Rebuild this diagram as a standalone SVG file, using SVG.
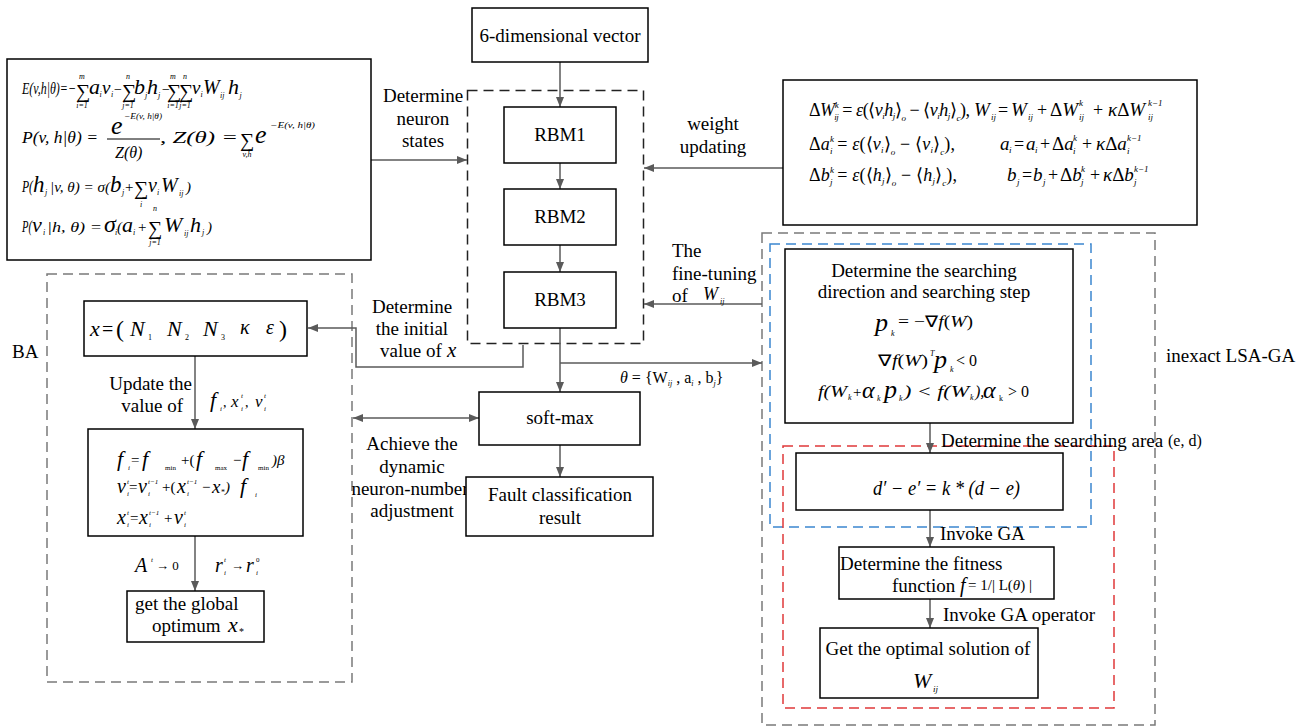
<svg xmlns="http://www.w3.org/2000/svg" width="1310" height="728" viewBox="0 0 1310 728">
<style>
text{font-family:"Liberation Serif","Times New Roman",serif;fill:#000}
.i{font-style:italic}
.l{font-size:19px}
.m{text-anchor:middle}
.lim{font-size:8px;font-style:italic;text-anchor:middle}
.box{fill:#fff;stroke:#000;stroke-width:1.5}
.c{stroke:#5a5a5a;stroke-width:1.5;fill:none}
.dk{fill:none;stroke:#222;stroke-width:1.5;stroke-dasharray:10 6}
.dg{fill:none;stroke:#7a7a7a;stroke-width:1.5;stroke-dasharray:10 6}
.db{fill:none;stroke:#3b87d0;stroke-width:1.5;stroke-dasharray:10 6}
.dr{fill:none;stroke:#e0383a;stroke-width:1.5;stroke-dasharray:10 6}
</style>
<defs>
<marker id="ah" viewBox="0 0 10 8" refX="10" refY="4" markerWidth="10" markerHeight="8" markerUnits="userSpaceOnUse" orient="auto-start-reverse"><path d="M0,0 L10,4 L0,8 z" fill="#5a5a5a"/></marker>
</defs>
<rect width="1310" height="728" fill="#fff"/>

<!-- containers -->
<g id="containers">
<rect class="dk" x="467.5" y="90.5" width="176" height="253"/>
<rect class="dg" x="47" y="274" width="305" height="408"/>
<rect class="dg" x="762" y="233" width="393" height="492"/>
<rect class="db" x="770" y="244" width="321" height="283"/>
<rect class="dr" x="783" y="446" width="331" height="262"/>
<text class="l" x="12" y="358">BA</text>
<text class="l" x="1166" y="362">inexact LSA-GA</text>
</g>

<!-- connectors -->
<g id="connectors">
<path class="c" marker-end="url(#ah)" d="M560,62 V107"/>
<path class="c" marker-end="url(#ah)" d="M560,163 V189"/>
<path class="c" marker-end="url(#ah)" d="M560,245 V272"/>
<path class="c" marker-end="url(#ah)" d="M560,328 V392"/>
<path class="c" marker-end="url(#ah)" d="M560,445 V477"/>
<path class="c" marker-end="url(#ah)" d="M560,363 H762"/>
<path class="c" marker-end="url(#ah)" d="M371,160 H467"/>
<path class="c" marker-end="url(#ah)" d="M783,168 H644"/>
<path class="c" marker-end="url(#ah)" d="M762,304 H644"/>
<path class="c" marker-end="url(#ah)" d="M523,345 V367 H356 V328 H308"/>
<path class="c" marker-start="url(#ah)" marker-end="url(#ah)" d="M353,418 H479"/>
<path class="c" marker-end="url(#ah)" d="M195,356 V429"/>
<path class="c" marker-end="url(#ah)" d="M195,536 V591"/>
<path class="c" marker-end="url(#ah)" d="M930,423 V453"/>
<path class="c" marker-end="url(#ah)" d="M930,510 V547"/>
<path class="c" marker-end="url(#ah)" d="M930,599 V628"/>
</g>

<!-- connector labels -->
<g id="labels">
<text class="l m" x="423" y="102">Determine</text>
<text class="l m" x="423" y="125">neuron</text>
<text class="l m" x="423" y="147">states</text>
<text class="l m" x="713" y="130">weight</text>
<text class="l m" x="713" y="153">updating</text>
<text class="l" x="672" y="257">The</text>
<text class="l" x="672" y="280">fine-tuning</text>
<text class="l" x="672" y="302">of</text>
<text class="i" x="703" y="300" font-size="18">W</text><text class="i" x="720" y="304" font-size="8">ij</text>
<text class="l m" x="412" y="313">Determine</text>
<text class="l m" x="412" y="335">the initial</text>
<text class="l" x="380" y="357">value of</text><text class="i" x="447" y="357" font-size="21">x</text>
<text font-size="16" x="620" y="383"><tspan class="i">θ</tspan> = {W<tspan class="i" font-size="8" dy="3">ij</tspan><tspan dy="-3"> , a</tspan><tspan class="i" font-size="8" dy="3">i</tspan><tspan dy="-3"> , b</tspan><tspan class="i" font-size="8" dy="3">j</tspan><tspan dy="-3">}</tspan></text>
<text class="l m" x="412" y="450">Achieve the</text>
<text class="l m" x="412" y="473">dynamic</text>
<text class="l m" x="410" y="495">neuron-number</text>
<text class="l m" x="412" y="517">adjustment</text>
<text class="l" x="192" y="390" text-anchor="end">Update the</text>
<text class="l" x="183" y="412" text-anchor="end">value of</text>
<text class="i" x="210" y="407" font-size="22">f</text><text class="i" x="220" y="411" font-size="7">i</text><text x="223" y="407" font-size="14">,</text>
<text class="i" x="231" y="407" font-size="17">x</text><text class="i" x="241" y="398" font-size="7">t</text><text class="i" x="241" y="411" font-size="7">i</text><text x="245" y="407" font-size="14">,</text>
<text class="i" x="255" y="407" font-size="17">v</text><text class="i" x="264" y="398" font-size="7">t</text><text class="i" x="264" y="411" font-size="7">i</text>
<text class="i" x="135" y="572" font-size="20">A</text><text class="i" x="151" y="562" font-size="7">t</text><text x="156" y="570" font-size="13">→ 0</text>
<text class="i" x="215" y="572" font-size="20">r</text><text class="i" x="224" y="562" font-size="7">t</text><text class="i" x="224" y="575" font-size="7">i</text><text x="231" y="570" font-size="13">→</text>
<text class="i" x="246" y="572" font-size="20">r</text><text x="256" y="562" font-size="7">0</text><text class="i" x="256" y="575" font-size="7">i</text>
<text class="l" x="941" y="447">Determine the searching area</text><text x="1168" y="446" font-size="16">(e, d)</text>
<text class="l" x="940" y="540">Invoke GA</text>
<text class="l" x="943" y="621">Invoke GA operator</text>
</g>

<!-- left formula box -->
<g id="energy-formulas">
<rect class="box" x="7" y="59" width="364" height="201"/>
<text class="i" x="22" y="94" font-size="17" textLength="54" lengthAdjust="spacingAndGlyphs">E(v,h|θ)=−</text>
<text x="76" y="98" font-size="20">∑</text><text class="lim" x="82" y="79">m</text><text class="lim" x="82" y="108">i=1</text>
<text class="i" x="89" y="94" font-size="22">a</text><text class="i" x="99.5" y="97" font-size="8">i</text><text class="i" x="102" y="94" font-size="19">v</text><text class="i" x="111" y="97" font-size="8">i</text>
<text x="114" y="94" font-size="14">−</text>
<text x="122" y="98" font-size="20">∑</text><text class="lim" x="128" y="79">n</text><text class="lim" x="128" y="108">j=1</text>
<text class="i" x="134" y="94" font-size="22">b</text><text class="i" x="145" y="98" font-size="8">j</text><text class="i" x="147" y="94" font-size="22">h</text><text class="i" x="158" y="98" font-size="8">j</text>
<text x="162" y="94" font-size="14">−</text>
<text x="167" y="98" font-size="20">∑</text><text class="lim" x="173" y="79">m</text><text class="lim" x="173" y="108">i=1</text>
<text x="179" y="98" font-size="20">∑</text><text class="lim" x="185" y="79">n</text><text class="lim" x="185" y="108">j=1</text>
<text class="i" x="192" y="94" font-size="19">v</text><text class="i" x="200.5" y="97" font-size="8">i</text><text class="i" x="203" y="94" font-size="20">W</text><text class="i" x="220" y="98" font-size="8">ij</text><text class="i" x="228" y="94" font-size="22">h</text><text class="i" x="239.5" y="98" font-size="8">j</text>

<text class="i" x="22" y="143" font-size="17" textLength="76" lengthAdjust="spacingAndGlyphs">P(v, h|θ) =</text>
<text class="i" x="111" y="134" font-size="26">e</text><text class="i" x="124" y="119" font-size="9" textLength="38" lengthAdjust="spacingAndGlyphs">−E(v, h|θ)</text>
<line x1="107" y1="139" x2="160" y2="139" stroke="#000" stroke-width="1"/>
<text class="i" x="115" y="158" font-size="16">Z(θ)</text>
<text class="i" x="160" y="143" font-size="16" textLength="78" lengthAdjust="spacingAndGlyphs">, Z(θ) =</text>
<text x="240" y="147" font-size="20">∑</text><text class="lim" x="247" y="157">v,h</text>
<text class="i" x="255" y="143" font-size="26">e</text><text class="i" x="270" y="128" font-size="9" textLength="45" lengthAdjust="spacingAndGlyphs">−E(v, h|θ)</text>

<text class="i" x="22" y="192" font-size="17" textLength="11" lengthAdjust="spacingAndGlyphs">P(</text><text class="i" x="33" y="192" font-size="23">h</text><text class="i" x="45" y="195" font-size="8">j</text>
<text class="i" x="50" y="192" font-size="15" textLength="60" lengthAdjust="spacingAndGlyphs">|v, θ) = σ(</text>
<text class="i" x="110" y="192" font-size="23">b</text><text class="i" x="122" y="195" font-size="8">j</text><text x="125" y="192" font-size="15">+</text>
<text x="134" y="195" font-size="20">∑</text><text class="lim" x="141" y="207">i</text>
<text class="i" x="148" y="192" font-size="20">v</text><text class="i" x="157" y="195" font-size="8">i</text><text class="i" x="161" y="192" font-size="20">W</text><text class="i" x="179" y="196" font-size="8">ij</text><text class="i" x="186" y="192" font-size="15">)</text>

<text class="i" x="22" y="232" font-size="17" textLength="10" lengthAdjust="spacingAndGlyphs">P(</text><text class="i" x="32" y="232" font-size="22">v</text><text class="i" x="43" y="235" font-size="8">i</text>
<text class="i" x="47" y="232" font-size="15" textLength="55" lengthAdjust="spacingAndGlyphs">|h, θ) =</text>
<text class="i" x="104" y="232" font-size="24">σ</text><text class="i" x="115" y="235" font-size="8">i</text>
<text class="i" x="117" y="232" font-size="15">(</text><text class="i" x="122" y="232" font-size="22">a</text><text class="i" x="133" y="235" font-size="8">i</text><text x="138" y="232" font-size="15">+</text>
<text x="148" y="235" font-size="20">∑</text><text class="lim" x="155" y="211">n</text><text class="lim" x="155" y="245">j=1</text>
<text class="i" x="164" y="232" font-size="22">W</text><text class="i" x="184" y="236" font-size="8">ij</text><text class="i" x="190" y="232" font-size="22">h</text><text class="i" x="202" y="235" font-size="8">j</text><text class="i" x="207" y="232" font-size="15">)</text>
</g>

<!-- right formula box -->
<g id="update-formulas">
<rect class="box" x="783" y="80" width="414" height="145"/>
<text x="809" y="116" font-size="18" textLength="161" lengthAdjust="spacing">Δ<tspan class="i">W</tspan><tspan class="i" font-size="9" dy="-8">k</tspan><tspan class="i" font-size="9" dx="-4" dy="12">ij</tspan><tspan dy="-4"> = </tspan><tspan class="i">ε</tspan>(⟨<tspan class="i">v</tspan><tspan class="i" font-size="9" dy="3">i</tspan><tspan class="i" dy="-3">h</tspan><tspan class="i" font-size="9" dy="3">j</tspan><tspan dy="-3">⟩</tspan><tspan class="i" font-size="9" dy="5">o</tspan><tspan dy="-5"> − ⟨</tspan><tspan class="i">v</tspan><tspan class="i" font-size="9" dy="3">i</tspan><tspan class="i" dy="-3">h</tspan><tspan class="i" font-size="9" dy="3">j</tspan><tspan dy="-3">⟩</tspan><tspan class="i" font-size="9" dy="5">c</tspan><tspan dy="-5">),</tspan></text>
<text class="i" x="974" y="116" font-size="19">W</text><text class="i" x="991" y="120" font-size="9">ij</text>
<text x="998" y="116" font-size="18">=</text>
<text class="i" x="1011" y="116" font-size="19">W</text><text class="i" x="1028" y="120" font-size="9">ij</text>
<text x="1037" y="116" font-size="18">+</text>
<text x="1050" y="116" font-size="19">Δ<tspan class="i">W</tspan></text><text class="i" x="1079" y="106" font-size="9">k</text><text class="i" x="1079" y="120" font-size="9">ij</text>
<text x="1093" y="116" font-size="18">+</text>
<text x="1108" y="116" font-size="19"><tspan class="i">κ</tspan>Δ<tspan class="i">W</tspan></text><text class="i" x="1148" y="106" font-size="9">k−1</text><text class="i" x="1148" y="120" font-size="9">ij</text>

<text x="809" y="150" font-size="18" textLength="146" lengthAdjust="spacing">Δ<tspan class="i">a</tspan><tspan class="i" font-size="9" dy="-8">k</tspan><tspan class="i" font-size="9" dx="-4" dy="12">i</tspan><tspan dy="-4"> = </tspan><tspan class="i">ε</tspan>(⟨<tspan class="i">v</tspan><tspan class="i" font-size="9" dy="3">i</tspan><tspan dy="-3">⟩</tspan><tspan class="i" font-size="9" dy="5">o</tspan><tspan dy="-5"> − ⟨</tspan><tspan class="i">v</tspan><tspan class="i" font-size="9" dy="3">i</tspan><tspan dy="-3">⟩</tspan><tspan class="i" font-size="9" dy="5">c</tspan><tspan dy="-5">),</tspan></text>
<text class="i" x="1000" y="150" font-size="19">a</text><text class="i" x="1009" y="153" font-size="9">i</text>
<text x="1014" y="150" font-size="18">=</text>
<text class="i" x="1026" y="150" font-size="19">a</text><text class="i" x="1035" y="153" font-size="9">i</text>
<text x="1040" y="150" font-size="18">+</text>
<text x="1052" y="150" font-size="19">Δ<tspan class="i">a</tspan></text><text class="i" x="1073" y="141" font-size="9">k</text><text class="i" x="1073" y="154" font-size="9">i</text>
<text x="1082" y="150" font-size="18">+</text>
<text x="1096" y="150" font-size="19"><tspan class="i">κ</tspan>Δ<tspan class="i">a</tspan></text><text class="i" x="1127" y="141" font-size="9">k−1</text><text class="i" x="1127" y="154" font-size="9">i</text>

<text x="809" y="181" font-size="18" textLength="148" lengthAdjust="spacing">Δ<tspan class="i">b</tspan><tspan class="i" font-size="9" dy="-8">k</tspan><tspan class="i" font-size="9" dx="-4" dy="12">j</tspan><tspan dy="-4"> = </tspan><tspan class="i">ε</tspan>(⟨<tspan class="i">h</tspan><tspan class="i" font-size="9" dy="3">j</tspan><tspan dy="-3">⟩</tspan><tspan class="i" font-size="9" dy="5">o</tspan><tspan dy="-5"> − ⟨</tspan><tspan class="i">h</tspan><tspan class="i" font-size="9" dy="3">j</tspan><tspan dy="-3">⟩</tspan><tspan class="i" font-size="9" dy="5">c</tspan><tspan dy="-5">),</tspan></text>
<text class="i" x="1007" y="181" font-size="19">b</text><text class="i" x="1017" y="185" font-size="9">j</text>
<text x="1022" y="181" font-size="18">=</text>
<text class="i" x="1033" y="181" font-size="19">b</text><text class="i" x="1043" y="185" font-size="9">j</text>
<text x="1048" y="181" font-size="18">+</text>
<text x="1060" y="181" font-size="19">Δ<tspan class="i">b</tspan></text><text class="i" x="1081" y="172" font-size="9">k</text><text class="i" x="1081" y="185" font-size="9">j</text>
<text x="1090" y="181" font-size="18">+</text>
<text x="1103" y="181" font-size="19"><tspan class="i">κ</tspan>Δ<tspan class="i">b</tspan></text><text class="i" x="1134" y="172" font-size="9">k−1</text><text class="i" x="1134" y="185" font-size="9">j</text>
</g>

<!-- DBN column -->
<g id="input"><rect class="box" x="472" y="8" width="176" height="54"/><text class="l m" x="560" y="42">6-dimensional vector</text></g>
<g id="rbm1"><rect class="box" x="504" y="107" width="112" height="56"/><text class="l m" x="560" y="141">RBM1</text></g>
<g id="rbm2"><rect class="box" x="504" y="189" width="112" height="56"/><text class="l m" x="560" y="223">RBM2</text></g>
<g id="rbm3"><rect class="box" x="504" y="272" width="112" height="56"/><text class="l m" x="560" y="306">RBM3</text></g>
<g id="softmax"><rect class="box" x="479" y="392" width="161" height="53"/><text class="l m" x="560" y="424">soft-max</text></g>
<g id="result"><rect class="box" x="466" y="477" width="187" height="59"/><text class="l m" x="560" y="501">Fault classification</text><text class="l m" x="560" y="524">result</text></g>

<!-- BA column -->
<g id="ba-x">
<rect class="box" x="84" y="301" width="223" height="55"/>
<text class="i" x="90" y="336" font-size="22">x</text><text x="102" y="336" font-size="20">=</text><text x="116" y="337" font-size="24">(</text>
<text class="i" x="130" y="336" font-size="22">N</text><text x="148" y="340" font-size="8">1</text>
<text class="i" x="167" y="336" font-size="22">N</text><text x="185" y="340" font-size="8">2</text>
<text class="i" x="203" y="336" font-size="22">N</text><text x="221" y="340" font-size="8">3</text>
<text class="i" x="240" y="334" font-size="20">κ</text><text class="i" x="266" y="334" font-size="20">ε</text><text x="279" y="337" font-size="24">)</text>
</g>
<g id="ba-update">
<rect class="box" x="88" y="429" width="215" height="107"/>
<text class="i" x="117" y="466" font-size="22">f</text><text class="i" x="128" y="470" font-size="7">i</text><text x="131" y="465" font-size="15">=</text>
<text class="i" x="142" y="466" font-size="22">f</text><text x="165" y="470" font-size="7">min</text><text x="181" y="465" font-size="15">+(</text>
<text class="i" x="196" y="466" font-size="22">f</text><text x="215" y="470" font-size="7">max</text><text x="233" y="465" font-size="15">−</text>
<text class="i" x="242" y="466" font-size="22">f</text><text x="258" y="470" font-size="7">min</text><text class="i" x="272" y="465" font-size="15">)β</text>

<text class="i" x="117" y="493" font-size="20">v</text><text class="i" x="127" y="484" font-size="7">t</text><text class="i" x="127" y="496" font-size="7">i</text><text x="129" y="492" font-size="15">=</text>
<text class="i" x="138" y="493" font-size="20">v</text><text class="i" x="148" y="484" font-size="7">t−1</text><text class="i" x="148" y="496" font-size="7">i</text><text x="162" y="492" font-size="15">+(</text>
<text class="i" x="177" y="493" font-size="20">x</text><text class="i" x="187" y="484" font-size="7">t−1</text><text class="i" x="187" y="496" font-size="7">i</text><text x="202" y="492" font-size="15">−</text>
<text class="i" x="212" y="493" font-size="19">x</text><text x="221" y="495" font-size="8">*</text><text class="i" x="225" y="492" font-size="15">)</text>
<text class="i" x="240" y="493" font-size="22">f</text><text class="i" x="255" y="497" font-size="7">i</text>

<text class="i" x="117" y="524" font-size="20">x</text><text class="i" x="127" y="515" font-size="7">t</text><text class="i" x="127" y="527" font-size="7">i</text><text x="130" y="523" font-size="15">=</text>
<text class="i" x="139" y="524" font-size="20">x</text><text class="i" x="149" y="515" font-size="7">t−1</text><text class="i" x="149" y="527" font-size="7">i</text><text x="164" y="523" font-size="15">+</text>
<text class="i" x="174" y="524" font-size="20">v</text><text class="i" x="184" y="515" font-size="7">t</text><text class="i" x="184" y="527" font-size="7">i</text>
</g>
<g id="ba-optimum">
<rect class="box" x="127" y="591" width="137" height="51"/>
<text class="l" x="135" y="610">get the global</text>
<text class="l" x="152" y="632">optimum</text><text class="i" x="228" y="632" font-size="22">x</text><text x="239" y="635" font-size="10">*</text>
</g>

<!-- LSA-GA column -->
<g id="search-direction">
<rect class="box" x="785" y="249" width="288" height="174"/>
<text class="l m" x="924" y="277">Determine the searching</text>
<text class="l m" x="924" y="298">direction and searching step</text>
<text class="i" x="875" y="331" font-size="26">p</text><text class="i" x="891" y="336" font-size="8">k</text>
<text x="898" y="327" font-size="16" textLength="75" lengthAdjust="spacingAndGlyphs">= −∇<tspan class="i">f</tspan>(<tspan class="i">W</tspan>)</text>
<text x="878" y="366" font-size="16" textLength="50" lengthAdjust="spacingAndGlyphs">∇<tspan class="i">f</tspan>(<tspan class="i">W</tspan>)</text><text class="i" x="930" y="356" font-size="8">T</text>
<text class="i" x="934" y="368" font-size="26">p</text><text class="i" x="950" y="372" font-size="8">k</text><text x="956" y="366" font-size="16">&lt; 0</text>
<text class="i" x="818" y="397" font-size="16" textLength="29" lengthAdjust="spacingAndGlyphs">f(W</text><text class="i" x="848" y="400" font-size="8">k</text><text x="853" y="397" font-size="15">+</text>
<text class="i" x="862" y="398" font-size="24">α</text><text class="i" x="877" y="401" font-size="8">k</text>
<text class="i" x="884" y="398" font-size="26">p</text><text class="i" x="899" y="401" font-size="8">k</text>
<text class="i" x="904" y="397" font-size="16" textLength="65" lengthAdjust="spacingAndGlyphs">) &lt; f(W</text><text class="i" x="970" y="400" font-size="8">k</text><text class="i" x="975" y="397" font-size="16">),</text>
<text class="i" x="983" y="398" font-size="24">α</text><text x="999" y="401" font-size="8">k</text><text x="1008" y="397" font-size="16">&gt; 0</text>
</g>
<g id="search-area">
<rect class="box" x="796" y="453" width="267" height="57"/>
<text class="i" x="873" y="495" font-size="20" textLength="147" lengthAdjust="spacingAndGlyphs">d′ − e′ = k * (d − e)</text>
</g>
<g id="fitness">
<rect class="box" x="839" y="547" width="215" height="52"/>
<text class="l" x="840" y="570">Determine the fitness</text>
<text class="l" x="892" y="592">function</text><text class="i" x="960" y="592" font-size="20">f</text>
<text x="968" y="590" font-size="15" textLength="64" lengthAdjust="spacingAndGlyphs">= 1/| L(<tspan class="i">θ</tspan>) |</text>
</g>
<g id="optimal">
<rect class="box" x="820" y="628" width="218" height="70"/>
<text class="l m" x="928" y="655">Get the optimal solution of</text>
<text class="i" x="913" y="688" font-size="22">W</text><text class="i" x="933" y="692" font-size="9">ij</text>
</g>
</svg>
